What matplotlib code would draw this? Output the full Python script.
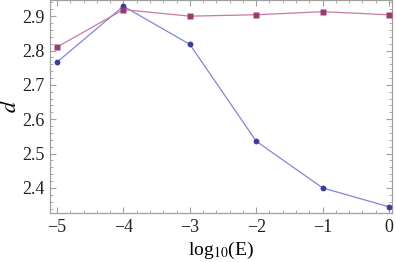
import matplotlib
matplotlib.use("Agg")
import matplotlib.pyplot as plt
from matplotlib.ticker import MultipleLocator

# data
log_e = [-5, -4, -3, -2, -1, 0]
d_blue = [2.766, 2.929, 2.818, 2.536, 2.400, 2.345]
d_red = [2.810, 2.919, 2.900, 2.904, 2.913, 2.904]

plt.rcParams["font.family"] = ["Liberation Serif", "DejaVu Serif"]
plt.rcParams["mathtext.fontset"] = "stix"

fig = plt.figure(figsize=(3.96, 2.62), dpi=100)
ax = fig.add_axes([50 / 396, 1 - 213 / 262, 342 / 396, 213 / 262])

ax.plot(log_e, d_blue, "-", color="#8585d6", lw=0.9, zorder=2)
ax.plot(log_e, d_blue, "o", color="#3d3da0", ms=4.2, mec="none", zorder=3)
ax.plot(log_e, d_red, "-", color="#c77aa4", lw=0.9, zorder=2)
ax.plot(log_e, d_red, "s", color="#993d71", ms=4.2, mec="none", zorder=3)

ax.set_xlim(-5.105, 0.045)
ax.set_ylim(2.327, 2.947)
ax.xaxis.set_major_locator(MultipleLocator(1))
ax.xaxis.set_minor_locator(MultipleLocator(0.2))
ax.yaxis.set_major_locator(MultipleLocator(0.1))
ax.yaxis.set_minor_locator(MultipleLocator(0.02))
ax.yaxis.set_major_formatter(matplotlib.ticker.FormatStrFormatter("%.1f"))
ax.xaxis.set_major_formatter(matplotlib.ticker.FuncFormatter(
    lambda v, p: f"{int(round(v))}".replace("-", "\u2212")))

for s in ax.spines.values():
    s.set_color("#a0a0a0")
    s.set_linewidth(0.9)
ax.tick_params(which="both", direction="in", top=True, right=True,
               color="#a0a0a0", labelsize=13, labelcolor="#222222")
ax.tick_params(which="major", length=4, width=0.8, pad=4)
ax.tick_params(which="minor", length=2, width=0.6)

ax.set_ylabel("$d$", fontsize=16, rotation=90, va="center", ha="center")
ax.yaxis.set_label_coords(-0.115, 0.5)
ax.set_xlabel("log$_{10}$(E)", fontsize=14, va="center")
ax.xaxis.set_label_coords(0.5, -0.175)

fig.savefig("out.png", dpi=100)
